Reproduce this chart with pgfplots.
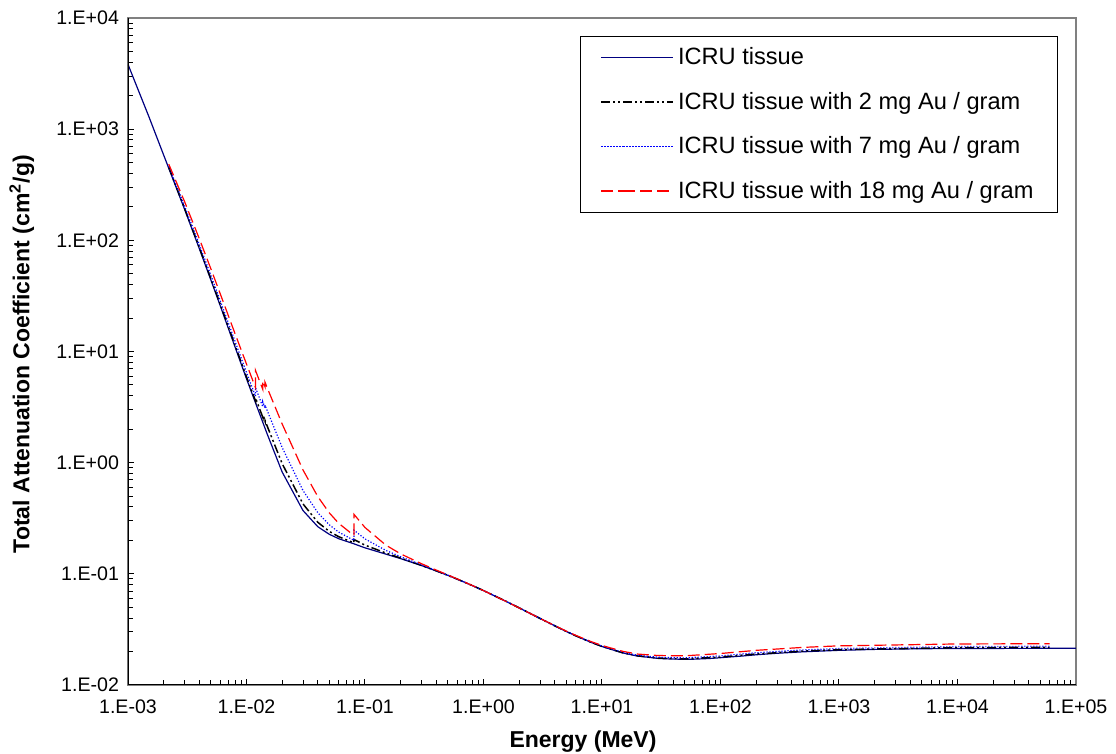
\documentclass[border=0pt]{standalone}
\usepackage{pgfplots}
\pgfplotsset{compat=1.18}
\usepackage{pgfplotstable}
\usepackage{fontspec}
\setmainfont{Liberation Sans}
\definecolor{navyline}{HTML}{000080}
\definecolor{blueline}{HTML}{0000FF}
\definecolor{redline}{HTML}{FF0000}
\definecolor{frame}{HTML}{808080}

\pgfplotstableread{
E mu
0.001 3829
0.0015 1297
0.002 585
0.003 190.8
0.004 84.1
0.005 44.1
0.006 25.84
0.008 11.0
0.01 5.684
0.015 1.794
0.02 0.8238
0.03 0.3707
0.04 0.2652
0.05 0.2267
0.06 0.2070
0.08 0.1868
0.1 0.1713
0.15 0.1504
0.2 0.1370
0.3 0.1187
0.4 0.1061
0.5 0.09687
0.6 0.08956
0.8 0.07865
1 0.07072
1.5 0.05754
2 0.04942
3 0.03969
4 0.03403
5 0.03031
6 0.02770
8 0.02429
10 0.02219
15 0.01941
20 0.01821
30 0.01732
40 0.01710
50 0.01705
60 0.01708
80 0.01730
100 0.01760
150 0.01820
200 0.01870
300 0.01930
500 0.01990
1000 0.02050
2000 0.02090
5000 0.02120
10000 0.02130
100000 0.02140
}\tissue

\pgfplotstableread{
E mu
0.00221 453.8
0.003 194.4
0.004 86.2
0.005 45.4
0.006 26.65
0.008 11.39
0.01 5.909
0.011919 3.592
0.011919 3.816
0.013734 2.554
0.013734 2.652
0.014353 2.341
0.014353 2.393
0.015 2.114
0.02 0.980
0.03 0.425
0.04 0.2907
0.05 0.2408
0.06 0.2157
0.08 0.1908
0.080725 0.1900
0.080725 0.2035
0.1 0.1813
0.15 0.1538
0.2 0.1386
0.3 0.1192
0.4 0.1063
0.5 0.09698
0.6 0.08961
0.8 0.07866
1 0.07072
1.5 0.05753
2 0.04941
3 0.03969
4 0.03404
5 0.03033
6 0.02773
8 0.02433
10 0.02224
15 0.01948
20 0.01830
30 0.01745
50 0.01716
100 0.01785
200 0.01900
500 0.02020
1000 0.02080
10000 0.02170
60000 0.02180
}\autwo

\pgfplotstableread{
E mu
0.00221 463.2
0.003 203.5
0.004 91.6
0.005 48.6
0.006 28.67
0.008 12.36
0.01 6.471
0.011919 3.948
0.011919 4.731
0.013734 3.178
0.013734 3.521
0.014353 3.111
0.014353 3.293
0.015 2.915
0.02 1.370
0.03 0.561
0.04 0.3543
0.05 0.2759
0.06 0.2373
0.08 0.2008
0.080725 0.1998
0.080725 0.2471
0.1 0.2062
0.15 0.1624
0.2 0.1425
0.3 0.1205
0.4 0.1069
0.5 0.09724
0.6 0.08975
0.8 0.07869
1 0.07070
1.5 0.05749
2 0.04939
3 0.03970
4 0.03408
5 0.03039
6 0.02781
8 0.02444
10 0.02238
15 0.01966
20 0.01851
30 0.01775
50 0.01752
100 0.01830
200 0.01950
500 0.02070
1000 0.02130
10000 0.02220
60000 0.02230
}\auseven

\pgfplotstableread{
E mu
0.00221 483.8
0.003 223.4
0.004 103.3
0.005 55.6
0.006 33.1
0.008 14.49
0.01 7.707
0.011919 4.731
0.011919 6.743
0.013734 4.55
0.013734 5.432
0.014353 4.805
0.014353 5.273
0.015 4.678
0.02 2.229
0.03 0.859
0.04 0.4944
0.05 0.3533
0.06 0.2848
0.08 0.2228
0.080725 0.2212
0.080725 0.343
0.1 0.2611
0.15 0.1812
0.2 0.1511
0.3 0.1233
0.4 0.1080
0.5 0.09782
0.6 0.09004
0.8 0.07876
1 0.07068
1.5 0.05742
2 0.04934
3 0.03973
4 0.03416
5 0.03053
6 0.02798
8 0.02469
10 0.02267
15 0.02007
20 0.01898
30 0.01840
50 0.01830
100 0.01920
200 0.02050
500 0.02180
1000 0.02250
10000 0.02340
60000 0.02350
}\aueighteen

\begin{document}
\begin{tikzpicture}
\path[use as bounding box] (-64pt,-34.5pt) rectangle (494pt,342.5pt);
\begin{axis}[
  at={(0,0)}, anchor=south west,
  scale only axis, width=474pt, height=333.5pt,
  xmode=log, ymode=log,
  xmin=1e-3, xmax=1e5, ymin=1e-2, ymax=1e4,
  axis line style={frame, line width=0.6pt},
  tick pos=left, tick align=inside,
  major tick length=3pt, minor tick length=2.5pt,
  every tick/.style={black, line width=0.5pt},
  xtick={1e-3,1e-2,1e-1,1,10,100,1000,10000,100000},
  xticklabels={1.E-03,1.E-02,1.E-01,1.E+00,1.E+01,1.E+02,1.E+03,1.E+04,1.E+05},
  ytick={1e-2,1e-1,1,10,100,1000,10000},
  yticklabels={1.E-02,1.E-01,1.E+00,1.E+01,1.E+02,1.E+03,1.E+04},
  tick label style={font=\fontsize{9.8}{11}\selectfont},
  xticklabel style={yshift=-4pt},
  yticklabel style={xshift=-1pt},
  xlabel={\textbf{Energy (MeV)}},
  ylabel={\textbf{Total Attenuation Coefficient (cm\textsuperscript{2}/g)}},
  label style={font=\fontsize{11.5}{13}\selectfont},
  xlabel style={at={(axis description cs:0.48,-0.0855)}, anchor=center},
  ylabel style={at={(axis description cs:-0.112,0.496)}, anchor=center},
  legend style={at={(0.981,0.973)}, anchor=north east, draw=black, fill=white,
    font=\fontsize{11.8}{13.5}\selectfont, row sep=8.2pt, inner xsep=10pt, inner ysep=3.5pt,
    line width=0.5pt},
  legend cell align=left,
  legend image code/.code={\path (0pt,0pt) -- (11pt,0pt);\draw[#1] (11pt,0pt) -- (36pt,0pt);},
]
\addplot[navyline, line width=0.6pt] table[x=E,y=mu] {\tissue};
\addlegendentry{ICRU tissue}
\addplot[black, line width=0.75pt, dash pattern=on 4.5pt off 1.5pt on 1pt off 1.5pt on 1pt off 1.5pt] table[x=E,y=mu] {\autwo};
\addlegendentry{ICRU tissue with 2 mg Au / gram}
\addplot[blueline, line width=0.6pt, dash pattern=on 0.6pt off 0.9pt] table[x=E,y=mu] {\auseven};
\addlegendentry{ICRU tissue with 7 mg Au / gram}
\addplot[redline, line width=0.6pt, dash pattern=on 6pt off 2.5pt] table[x=E,y=mu] {\aueighteen};
\addlegendentry{ICRU tissue with 18 mg Au / gram}
\draw[black, line width=0.6pt] (rel axis cs:0,1) -- (rel axis cs:0,0) -- (rel axis cs:1,0);
\end{axis}
\end{tikzpicture}
\end{document}
